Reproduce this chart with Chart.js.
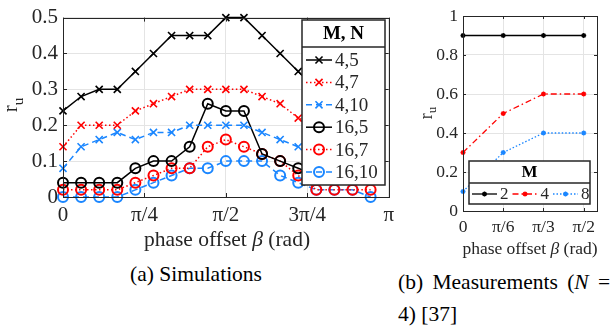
<!DOCTYPE html>
<html>
<head>
<meta charset="utf-8">
<script src="https://cdn.jsdelivr.net/npm/chart.js@4/dist/chart.umd.min.js"></script>
<style>
    body { margin: 0; width: 613px; height: 330px; background: #fff; overflow: hidden; position: relative;
           font-family: 'Liberation Serif', 'DejaVu Serif', serif; color: #262626; }
    canvas { position: absolute; top: 0; }
    .lbl { position: absolute; white-space: nowrap; line-height: 1; }
    .lbl sub { font-size: 0.72em; vertical-align: -0.35em; }
    .rot { transform: translate(-50%, -50%) rotate(-90deg); }
    .ctr { transform: translate(-50%, -50%); }
    .cap { color: #000; }
</style>
</head>
<body>
<canvas id="simChart" width="400" height="240" style="left:0;width:400px;height:240px"></canvas>
<canvas id="measChart" width="213" height="260" style="left:400px;width:213px;height:260px"></canvas>

<div class="lbl rot" style="left:13px;top:105px;font-size:21px">r<sub>u</sub></div>
<div class="lbl ctr" style="left:227px;top:240px;font-size:21.5px">phase offset <i>β</i> (rad)</div>
<div class="lbl rot" style="left:428px;top:113px;font-size:18px">r<sub>u</sub></div>
<div class="lbl ctr" style="left:530px;top:249px;font-size:17.5px">phase offset <i>β</i> (rad)</div>

<div class="lbl ctr cap" style="left:196px;top:275px;font-size:21.5px">(a) Simulations</div>
<div class="lbl cap" style="left:398px;top:272px;font-size:21.5px;word-spacing:4px">(b) Measurements (<i>N</i>&nbsp;=</div>
<div class="lbl cap" style="left:398px;top:304px;font-size:21.5px">4) [37]</div>

<script>
// ---- (a) simulations: beta in steps of pi/18 ----
const simSteps = [0, 1, 2, 3, 4, 5, 6, 7, 8, 9, 10, 11, 12, 13, 14, 15, 16, 17];
const simTickPos = [0, 4.5, 9, 13.5, 18];
const simTickLabels = ['0', 'π/4', 'π/2', '3π/4', 'π'];
const simNames = ['4,5', '4,7', '4,10', '16,5', '16,7', '16,10'];

const ru_4_5   = [0.24, 0.28, 0.30, 0.30, 0.35, 0.40, 0.45, 0.45, 0.45, 0.50, 0.50, 0.45, 0.40, 0.35, 0.30, 0.28, 0.26, 0.24];
const ru_4_7   = [0.14, 0.20, 0.20, 0.20, 0.24, 0.26, 0.28, 0.30, 0.30, 0.30, 0.30, 0.28, 0.26, 0.22, 0.20, 0.20, 0.20, 0.14];
const ru_4_10  = [0.08, 0.14, 0.16, 0.18, 0.16, 0.18, 0.18, 0.20, 0.20, 0.20, 0.20, 0.18, 0.16, 0.14, 0.16, 0.14, 0.14, 0.08];
const ru_16_5  = [0.04, 0.04, 0.04, 0.04, 0.08, 0.10, 0.10, 0.14, 0.26, 0.24, 0.24, 0.12, 0.10, 0.08, 0.06, 0.06, 0.06, 0.06];
const ru_16_7  = [0.02, 0.02, 0.02, 0.02, 0.04, 0.06, 0.08, 0.08, 0.14, 0.16, 0.14, 0.12, 0.10, 0.06, 0.02, 0.02, 0.02, 0.02];
const ru_16_10 = [0.00, 0.00, 0.00, 0.00, 0.02, 0.04, 0.06, 0.08, 0.08, 0.10, 0.10, 0.10, 0.06, 0.04, 0.02, 0.02, 0.02, 0.00];

// ---- (b) measurements: beta in steps of pi/6 ----
const measSteps = [0, 1, 2, 3];
const measTickLabels = ['0', 'π/6', 'π/3', 'π/2'];
const measNames = ['2', '4', '8'];
const ru_M2 = [0.9, 0.9, 0.9, 0.9];
const ru_M4 = [0.3, 0.5, 0.6, 0.6];
const ru_M8 = [0.1, 0.3, 0.4, 0.4];

const BLACK = '#000000';
const RED = '#ff0000';
const BLUE = '#1a86ff';
const AXIS = '#262626';
const GRID = '#e4e4e4';
const SERIF = "'Liberation Serif', 'DejaVu Serif', serif";

function toPoints(xs, ys) {
    return xs.map((x, i) => ({ x: x, y: ys[i] }));
}

/**
 * Draw the axes box with inward tick marks (MATLAB look)
 */
const framePlugin = {
    id: 'frame',
    afterDatasetsDraw(chart, args, opts) {
        const ctx = chart.ctx;
        const a = chart.chartArea;
        const len = opts.tickLen || 4;
        ctx.save();
        ctx.strokeStyle = AXIS;
        ctx.lineWidth = 1;
        ctx.beginPath();
        chart.scales.y.ticks.forEach(t => {
            const py = Math.round(chart.scales.y.getPixelForValue(t.value)) + 0.5;
            ctx.moveTo(a.left, py); ctx.lineTo(a.left + len, py);
            ctx.moveTo(a.right, py); ctx.lineTo(a.right - len, py);
        });
        chart.scales.x.ticks.forEach(t => {
            const px = Math.round(chart.scales.x.getPixelForValue(t.value)) + 0.5;
            ctx.moveTo(px, a.bottom); ctx.lineTo(px, a.bottom - len);
            ctx.moveTo(px, a.top); ctx.lineTo(px, a.top + len);
        });
        ctx.stroke();
        ctx.strokeRect(Math.round(a.left) + 0.5, Math.round(a.top) + 0.5,
                       Math.round(a.right - a.left), Math.round(a.bottom - a.top));
        ctx.restore();
    }
};

/**
 * Boxed legend with a bold title row, drawn over the plot
 */
const boxLegendPlugin = {
    id: 'boxLegend',
    afterDraw(chart, args, o) {
        const ctx = chart.ctx;
        ctx.save();
        ctx.fillStyle = '#fff';
        ctx.fillRect(o.x, o.y, o.w, o.h);
        ctx.strokeStyle = AXIS;
        ctx.lineWidth = 1.5;
        ctx.strokeRect(o.x, o.y, o.w, o.h);
        ctx.beginPath();
        ctx.moveTo(o.x, o.y + o.titleH);
        ctx.lineTo(o.x + o.w, o.y + o.titleH);
        ctx.stroke();

        ctx.fillStyle = '#000';
        ctx.font = 'bold ' + o.fontSize + 'px ' + SERIF;
        ctx.textAlign = 'center';
        ctx.textBaseline = 'middle';
        ctx.fillText(o.title, o.x + o.w / 2, o.y + o.titleH / 2 + 1);

        ctx.font = o.fontSize + 'px ' + SERIF;
        ctx.textAlign = 'left';
        chart.data.datasets.forEach((ds, i) => {
            const ex = o.entryX + i * o.dx;
            const ey = o.entryY + i * o.dy;
            ctx.strokeStyle = ds.borderColor;
            ctx.lineWidth = ds.borderWidth;
            ctx.setLineDash(ds.borderDash || []);
            ctx.beginPath();
            ctx.moveTo(ex, ey);
            ctx.lineTo(ex + o.sampleW, ey);
            ctx.stroke();
            ctx.setLineDash([]);
            ctx.lineWidth = ds.pointBorderWidth;
            ctx.fillStyle = ds.pointBackgroundColor;
            Chart.helpers.drawPoint(ctx, {
                pointStyle: ds.pointStyle, radius: ds.pointRadius,
                rotation: 0, borderWidth: ds.pointBorderWidth
            }, ex + o.sampleW / 2, ey);
            ctx.fillStyle = '#262626';
            ctx.fillText(ds.label, ex + o.sampleW + 3, ey + 1);
        });
        ctx.restore();
    }
};

function simDataset(label, values, color, dash, marker) {
    const circle = marker === 'circle';
    return {
        label: label,
        data: toPoints(simSteps, values),
        borderColor: color,
        borderWidth: 1.5,
        borderDash: dash,
        pointStyle: marker,
        pointRadius: 5,
        pointBorderWidth: circle ? 2 : 1.6,
        pointBorderColor: color,
        pointBackgroundColor: 'rgba(0,0,0,0)',
        tension: 0,
        clip: false
    };
}

function measDataset(label, values, color, dash) {
    return {
        label: label,
        data: toPoints(measSteps, values),
        borderColor: color,
        borderWidth: 1.3,
        borderDash: dash,
        pointStyle: 'star',
        pointRadius: 2.5,
        pointBorderWidth: 1.3,
        pointBorderColor: color,
        pointBackgroundColor: color,
        tension: 0,
        clip: false
    };
}

function yTickLabel(v) {
    return String(parseFloat(v.toFixed(1)));
}

document.addEventListener('DOMContentLoaded', function() {
    const simCanvas = document.getElementById('simChart');
    new Chart(simCanvas, {
        type: 'line',
        data: {
            datasets: [
                simDataset(simNames[0], ru_4_5, BLACK, [], 'crossRot'),
                simDataset(simNames[1], ru_4_7, RED, [1.5, 2.5], 'crossRot'),
                simDataset(simNames[2], ru_4_10, BLUE, [6, 4], 'crossRot'),
                simDataset(simNames[3], ru_16_5, BLACK, [], 'circle'),
                simDataset(simNames[4], ru_16_7, RED, [1.5, 2.5], 'circle'),
                simDataset(simNames[5], ru_16_10, BLUE, [6, 4], 'circle')
            ]
        },
        options: {
            responsive: false,
            animation: false,
            layout: { padding: { top: 13, right: 8, left: 0, bottom: 0 } },
            plugins: {
                legend: { display: false },
                tooltip: { enabled: false },
                frame: { tickLen: 4 },
                boxLegend: {
                    x: 302, y: 20, w: 83, h: 165, titleH: 27, title: 'M, N', fontSize: 19,
                    entryX: 306, entryY: 60, dx: 0, dy: 22.4, sampleW: 26
                }
            },
            scales: {
                x: {
                    type: 'linear', min: 0, max: 18,
                    afterBuildTicks: s => { s.ticks = simTickPos.map(v => ({ value: v })); },
                    afterFit: s => { s.height = 43; },
                    ticks: {
                        autoSkip: false, maxRotation: 0, padding: 6, color: AXIS,
                        font: { family: SERIF, size: 21 },
                        callback: (v, i) => simTickLabels[i]
                    },
                    grid: { color: GRID, drawTicks: false },
                    border: { display: false }
                },
                y: {
                    min: 0, max: 0.5,
                    afterFit: s => { s.width = 63; },
                    ticks: {
                        stepSize: 0.1, padding: 5, color: AXIS,
                        font: { family: SERIF, size: 21 },
                        callback: yTickLabel
                    },
                    grid: { color: GRID, drawTicks: false },
                    border: { display: false }
                }
            }
        },
        plugins: [framePlugin, boxLegendPlugin]
    });

    const measCanvas = document.getElementById('measChart');
    new Chart(measCanvas, {
        type: 'line',
        data: {
            datasets: [
                measDataset(measNames[0], ru_M2, BLACK, []),
                measDataset(measNames[1], ru_M4, RED, [6, 3, 1.5, 3]),
                measDataset(measNames[2], ru_M8, BLUE, [1.5, 2])
            ]
        },
        options: {
            responsive: false,
            animation: false,
            layout: { padding: { top: 16, right: 16, left: 0, bottom: 0 } },
            plugins: {
                legend: { display: false },
                tooltip: { enabled: false },
                frame: { tickLen: 3 },
                boxLegend: {
                    x: 69, y: 161, w: 121, h: 43, titleH: 22, title: 'M', fontSize: 17,
                    entryX: 72, entryY: 194, dx: 40.5, dy: 0, sampleW: 25
                }
            },
            scales: {
                x: {
                    type: 'linear', min: 0, max: 3.33,
                    afterBuildTicks: s => { s.ticks = measSteps.map(v => ({ value: v })); },
                    afterFit: s => { s.height = 49; },
                    ticks: {
                        autoSkip: false, maxRotation: 0, padding: 6, color: AXIS,
                        font: { family: SERIF, size: 17.5 },
                        callback: (v, i) => measTickLabels[i]
                    },
                    grid: { color: GRID, drawTicks: false },
                    border: { display: false }
                },
                y: {
                    min: 0, max: 1,
                    afterFit: s => { s.width = 63; },
                    ticks: {
                        stepSize: 0.2, padding: 5, color: AXIS,
                        font: { family: SERIF, size: 17.5 },
                        callback: yTickLabel
                    },
                    grid: { color: GRID, drawTicks: false },
                    border: { display: false }
                }
            }
        },
        plugins: [framePlugin, boxLegendPlugin]
    });
});
</script>
</body>
</html>
